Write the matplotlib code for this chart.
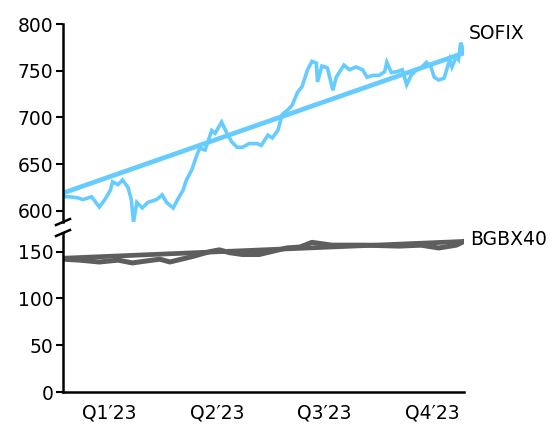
import numpy as np
import matplotlib
matplotlib.use('Agg')
import matplotlib.pyplot as plt

# day of year (0..364) and index levels
sofix_days = [0, 6, 13, 18, 26, 33, 38, 43, 45, 50,
              54, 59, 62, 64, 67, 72, 77, 85, 90, 94,
              100, 104, 109, 112, 117, 121, 124, 129, 131, 135,
              138, 144, 148, 153, 158, 163, 169, 176, 180, 186,
              190, 195, 199, 204, 208, 213, 217, 222, 226, 230,
              231, 235, 240, 245, 248, 255, 260, 266, 272, 276,
              281, 287, 292, 294, 298, 303, 308, 312, 316, 321,
              325, 330, 334, 337, 341, 346, 349, 351, 353, 357,
              359, 361, 364]
sofix_vals = [615, 615, 614, 612, 615, 604, 612, 622, 631, 628,
              633, 625, 612, 588, 609, 603, 609, 612, 617, 609,
              603, 612, 622, 633, 644, 658, 667, 665, 672, 686,
              683, 695, 685, 674, 668, 668, 672, 672, 670, 681,
              678, 686, 703, 708, 713, 727, 733, 751, 760, 758,
              738, 755, 753, 729, 743, 756, 751, 754, 751, 743,
              745, 745, 749, 759, 748, 749, 751, 735, 745, 751,
              753, 759, 754, 743, 740, 742, 754, 762, 754, 765,
              762, 780, 770]

bgbx_days = [0, 15, 33, 50, 63, 75, 88, 97, 118, 133,
             142, 151, 163, 178, 203, 215, 226, 244, 275, 305,
             325, 341, 357, 364]
bgbx_vals = [142, 141, 139, 141, 138, 140, 142, 139, 145, 150,
             152, 149, 147, 147, 154, 155, 160, 157, 157, 156,
             157, 154, 157, 161]

trend_days = [0, 364]
sofix_trend = [619, 769]
bgbx_trend = [143, 161]

quarters = ['Q1\u203223', 'Q2\u203223', 'Q3\u203223', 'Q4\u203223']

blue = '#66CCFF'
grey = '#5E5E5E'
fs = 13.5

fig = plt.figure(figsize=(5.55, 4.25), dpi=100)
W, H = 555, 425
left, right = 63, 464
ax_top = fig.add_axes([left / W, (H - 222) / H, (right - left) / W, 198 / H])
ax_bot = fig.add_axes([left / W, (H - 392) / H, (right - left) / W, 159 / H])

ax_top.plot(sofix_days, sofix_vals, color=blue, lw=2.6, solid_joinstyle='miter')
ax_top.plot(trend_days, sofix_trend, color=blue, lw=3.4, solid_capstyle='butt')
ax_bot.plot(bgbx_days, bgbx_vals, color=grey, lw=3.6)
ax_bot.plot(trend_days, bgbx_trend, color=grey, lw=3.4, solid_capstyle='butt')

ax_top.set_ylim(588, 800)
ax_bot.set_ylim(0, 170)
for ax in (ax_top, ax_bot):
    ax.set_xlim(0, 364)
    ax.spines['top'].set_visible(False)
    ax.spines['right'].set_visible(False)
    ax.spines['left'].set_linewidth(1.8)
    ax.spines['bottom'].set_linewidth(1.8)
    ax.tick_params(axis='y', labelsize=fs, length=5, width=1.5, pad=2)
    ax.patch.set_visible(False)

ax_top.spines['bottom'].set_visible(False)
ax_top.set_yticks([600, 650, 700, 750, 800])
ax_top.set_xticks([])
ax_bot.set_yticks([0, 50, 100, 150])

ax_bot.set_xticks(np.linspace(42, 335, 4))
ax_bot.set_xticklabels(quarters)
ax_bot.tick_params(axis='x', labelsize=fs, length=0, pad=8)

# break marks on the y axis
dx, dy = 7 / 401, 3
ax_top.plot([-dx, dx], [-dy / 198, dy / 198], transform=ax_top.transAxes,
            color='black', lw=1.8, clip_on=False)
ax_bot.plot([-dx, dx], [1 - dy / 159, 1 + dy / 159], transform=ax_bot.transAxes,
            color='black', lw=1.8, clip_on=False)

ax_top.text(368, 790, 'SOFIX', fontsize=fs, va='center', ha='left', clip_on=False)
ax_bot.text(370, 163, 'BGBX40', fontsize=fs, va='center', ha='left', clip_on=False)

fig.savefig('out.png', dpi=100)
